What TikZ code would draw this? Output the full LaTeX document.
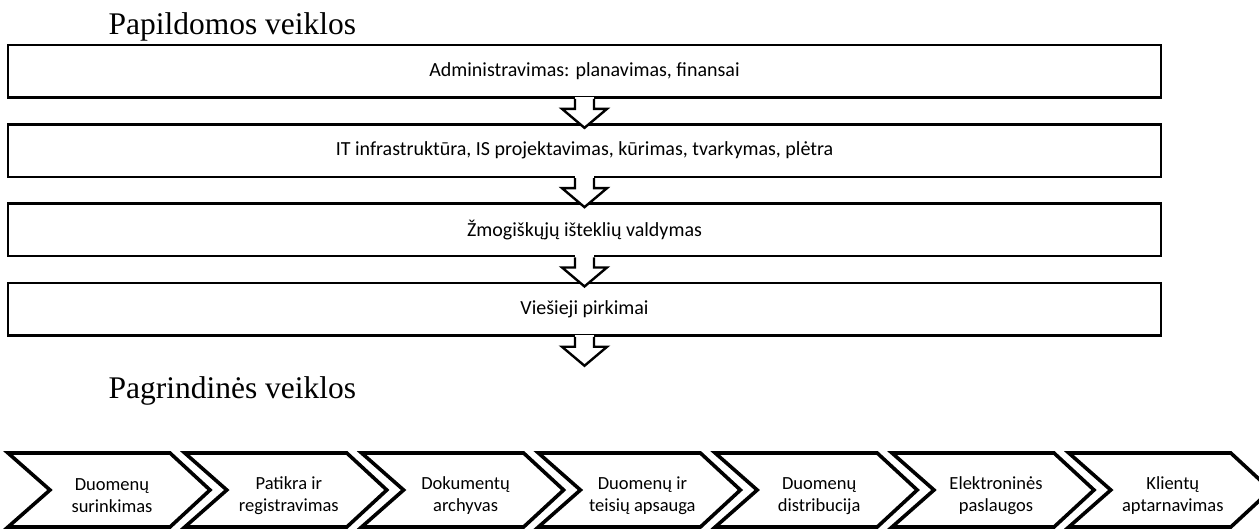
\documentclass[tikz,border=0pt]{standalone}
\usepackage{fontspec}
\setmainfont{Liberation Serif}
\newfontfamily\calibri{Carlito}

% block arrow pointing down out of the bottom of a box
\def\flowarrow#1{%
  \fill[white] ([shift={(-9.5,-2)}]#1.south) rectangle ([shift={(9.5,10)}]#1.south);
  \filldraw[fill=white, line width=2.4pt, line join=miter]
    ([shift={(-9.5,0)}]#1.south) -- ++(0,10) -- ++(-13,0) -- ++(22.5,19)
    -- ++(22.5,-19) -- ++(-13,0) -- ++(0,-10);
}

\tikzset{
  actbox/.style={draw, line width=2.6pt, minimum width=1153pt, minimum height=52.5pt,
    inner sep=0pt, font=\calibri\fontsize{20}{24}\selectfont},
  heading/.style={anchor=base west, font=\fontsize{31.5}{36}\selectfont},
  chev/.style={draw, line width=3.6pt, line join=miter},
  chevtext/.style={align=center, font=\calibri\fontsize{18.5}{22}\selectfont},
}

\begin{document}
\begin{tikzpicture}[x=1pt, y=-1pt]
    \useasboundingbox (0,0) rectangle (1259,528);
    \clip (0,0) rectangle (1259,528);

    \node[heading] (suppTitle) at (105,34) {Papildomos veiklos};

    \node[actbox] (admin) at (584.5,71.3) {Administravimas: planavimas, finansai};
    \node[actbox] (infra) at (584.5,150.6) {IT infrastruktūra, IS projektavimas, kūrimas, tvarkymas, plėtra};
    \node[actbox] (hr) at (584.5,229.9) {Žmogiškųjų išteklių valdymas};
    \node[actbox] (procure) at (584.5,309.2) {Viešieji pirkimai};

    \flowarrow{admin}
    \flowarrow{infra}
    \flowarrow{hr}
    \flowarrow{procure}

    \node[heading] (coreTitle) at (105,398) {Pagrindinės veiklos};

    \foreach \lbl [count=\i] in {{Duomenų\\surinkimas}, {Patikra ir\\registravimas},
        {Dokumentų\\archyvas}, {Duomenų ir\\teisių apsauga}, {Duomenų\\distribucija},
        {Elektroninės\\paslaugos}, {Klientų\\aptarnavimas}} {
      \pgfmathsetmacro\s{8+(\i-1)*176.8}
      \draw[chev] (\s,453) -- ++(162,0) -- ++(40,37) -- ++(-40,37) -- ++(-162,0)
        -- ++(42,-37) -- cycle;
      \node[chevtext] (core\i) at (\s+104,496) {\lbl};
    }

  \end{tikzpicture}
\end{document}
